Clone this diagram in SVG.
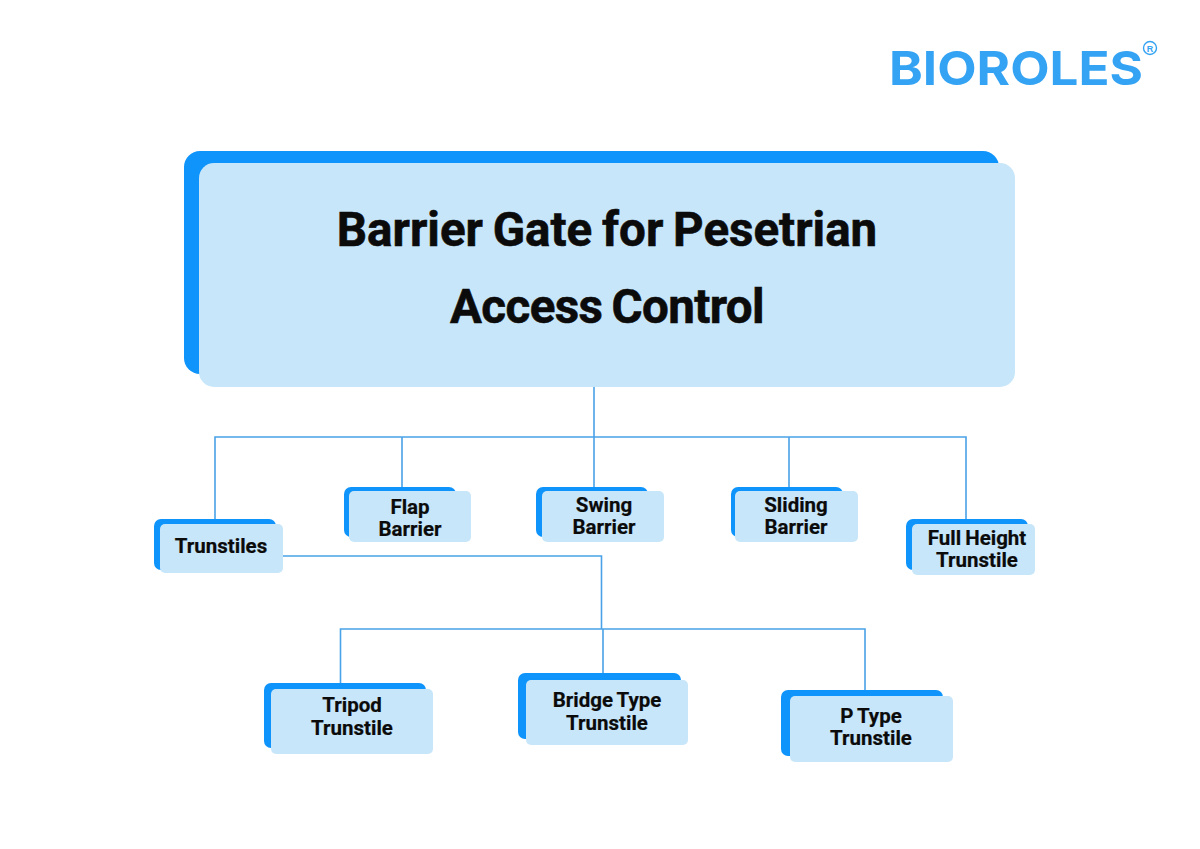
<svg xmlns="http://www.w3.org/2000/svg" width="1200" height="849" viewBox="0 0 1200 849">
<style>
.b{fill:#0f94fb}.f{fill:#c7e6fa}
.c{fill:none;stroke:#4aa2e8;stroke-width:1.6}
text{font-family:Roboto,"Liberation Sans",sans-serif;font-weight:700;fill:#0b0b0b;text-anchor:middle}
.t{font-size:47.500px;word-spacing:-2px;stroke:#0b0b0b;stroke-width:.6px}
.t2{letter-spacing:-.6px}
.s{font-size:20.500px;word-spacing:-1px;stroke:#0b0b0b;stroke-width:.2px}
.logo{font-family:"Inter","Liberation Sans",sans-serif;font-weight:700;font-size:47px;fill:#35a3f3;stroke:none;text-anchor:start}
.r{font-family:"Liberation Sans",sans-serif;font-weight:700;font-size:9px;fill:#35a3f3}
</style>
<rect width="1200" height="849" fill="#fff"/>
<g id="connectors" class="c">
<path d="M594 387V437M215 519V437H966V519M402 437V487M594 437V491M789 437V487"/>
<path d="M283 556H601.500V629M340.500 683V629H865V690M603 629V673"/>
</g>
<g id="logo"><text class="logo" x="889" y="85" textLength="254" lengthAdjust="spacingAndGlyphs">BIOROLES</text>
<circle cx="1150" cy="48" r="6.500" fill="none" stroke="#35a3f3" stroke-width="1.400"/><text class="r" x="1150" y="51.500">R</text></g>
<g id="root"><rect class="b" x="184" y="151" width="815" height="223" rx="16"/><rect class="f" x="199" y="163" width="816" height="224" rx="15"/>
<text class="t" x="607" y="246">Barrier Gate for Pesetrian</text><text class="t t2" x="607" y="323">Access Control</text></g>
<g id="trunstiles"><rect class="b" x="154" y="519" width="122" height="51" rx="7"/><rect class="f" x="160" y="524" width="123" height="49" rx="5"/>
<text class="s" x="221" y="553">Trunstiles</text></g>
<g id="flap"><rect class="b" x="344" y="487" width="112" height="50" rx="7"/><rect class="f" x="349" y="491" width="122" height="51" rx="5"/>
<text class="s" x="410" y="514">Flap</text><text class="s" x="410" y="536">Barrier</text></g>
<g id="swing"><rect class="b" x="536" y="487" width="112" height="50" rx="7"/><rect class="f" x="542" y="491" width="122" height="51" rx="5"/>
<text class="s" x="604" y="512">Swing</text><text class="s" x="604" y="534">Barrier</text></g>
<g id="sliding"><rect class="b" x="731" y="487" width="112" height="50" rx="7"/><rect class="f" x="735" y="491" width="123" height="51" rx="5"/>
<text class="s" x="796" y="512">Sliding</text><text class="s" x="796" y="534">Barrier</text></g>
<g id="full-height"><rect class="b" x="906" y="519" width="122" height="51" rx="7"/><rect class="f" x="912" y="524" width="123" height="51" rx="5"/>
<text class="s" x="977" y="545">Full Height</text><text class="s" x="977" y="567">Trunstile</text></g>
<g id="tripod"><rect class="b" x="264" y="683" width="162" height="65" rx="7"/><rect class="f" x="271" y="689" width="162" height="65" rx="5"/>
<text class="s" x="352" y="712">Tripod</text><text class="s" x="352" y="735">Trunstile</text></g>
<g id="bridge"><rect class="b" x="518" y="673" width="163" height="66" rx="7"/><rect class="f" x="526" y="680" width="162" height="65" rx="5"/>
<text class="s" x="607" y="707">Bridge Type</text><text class="s" x="607" y="730">Trunstile</text></g>
<g id="p-type"><rect class="b" x="781" y="690" width="162" height="66" rx="7"/><rect class="f" x="790" y="696" width="163" height="66" rx="5"/>
<text class="s" x="871" y="723">P Type</text><text class="s" x="871" y="745">Trunstile</text></g>
</svg>
